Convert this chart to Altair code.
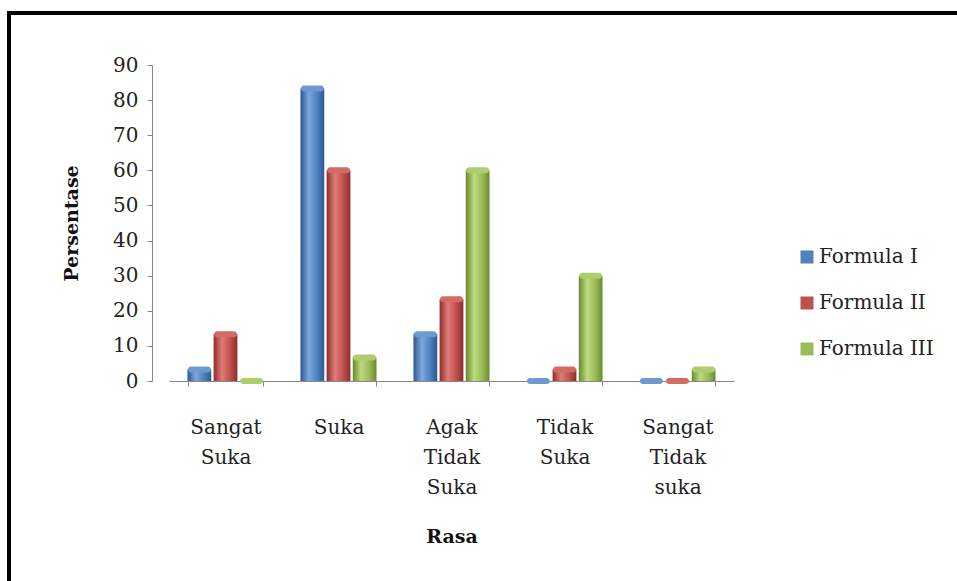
import altair as alt
import pandas as pd

# ---- data ----
categories = ["Sangat Suka", "Suka", "Agak Tidak Suka", "Tidak Suka", "Sangat Tidak suka"]
series = ["Formula I", "Formula II", "Formula III"]
formula_1 = [3.3, 83.3, 13.3, 0, 0]
formula_2 = [13.3, 60.0, 23.3, 3.3, 0]
formula_3 = [0, 6.7, 60.0, 30.0, 3.3]
y_ticks = [0, 10, 20, 30, 40, 50, 60, 70, 80, 90]

base_colors = ["#4F81BD", "#C0504D", "#9BBB59"]
dark_colors = ["#2B5894", "#8E2F2C", "#6A8A30"]
light_colors = ["#7DA7DD", "#E07C78", "#BCDA7E"]
cap_colors = ["#6E9AD2", "#D26A66", "#AECD6E"]

rows = []
for s, vals in zip(series, [formula_1, formula_2, formula_3]):
    for c, v in zip(categories, vals):
        rows.append({"Rasa": c, "Formula": s, "Persentase": v})
df = pd.DataFrame(rows)

FONT = "DejaVu Serif"

x_enc = alt.X(
    "Rasa:N",
    sort=categories,
    scale=alt.Scale(domain=categories, paddingInner=0.33, paddingOuter=0.165),
    axis=alt.Axis(
        title="Rasa",
        labelAngle=0,
        labelExpr="split(datum.label, ' ')",
        labelFont=FONT,
        labelFontSize=20,
        labelLineHeight=30,
        labelColor="#222222",
        labelPadding=31,
        labelBaseline="top",
        tickBand="extent",
        tickOffset=-12,
        tickSize=5,
        tickColor="#888888",
        domainColor="#888888",
        titleFont=FONT,
        titleFontSize=19,
        titleFontWeight="bold",
        titleColor="#111111",
        titlePadding=30,
    ),
)
xoff_enc = alt.XOffset(
    "Formula:N", sort=series, scale=alt.Scale(domain=series, paddingInner=0.1, paddingOuter=0)
)
y_enc = alt.Y(
    "Persentase:Q",
    scale=alt.Scale(domain=[0, 90], nice=False),
    axis=alt.Axis(
        title="Persentase",
        values=y_ticks,
        grid=False,
        offset=17,
        tickSize=5,
        tickColor="#888888",
        domainColor="#888888",
        labelFont=FONT,
        labelFontSize=20,
        labelColor="#222222",
        labelPadding=9,
        titleFont=FONT,
        titleFontSize=19,
        titleFontWeight="bold",
        titleColor="#111111",
        titlePadding=31,
    ),
)

base = alt.Chart(df).encode(x=x_enc, xOffset=xoff_enc, y=y_enc)

legend_bars = base.mark_bar().encode(
    color=alt.Color(
        "Formula:N",
        sort=series,
        scale=alt.Scale(domain=series, range=base_colors),
        legend=alt.Legend(
            title=None,
            orient="none",
            legendX=628,
            legendY=182,
            symbolType="square",
            symbolSize=169,
            symbolStrokeWidth=0,
            labelFont=FONT,
            labelFontSize=20,
            labelColor="#222222",
            labelOffset=2,
            rowPadding=26,
        ),
    )
)

layers = [legend_bars]
for s, d, l, m in zip(series, dark_colors, light_colors, base_colors):
    grad = alt.LinearGradient(
        gradient="linear",
        stops=[
            alt.GradientStop(color=d, offset=0),
            alt.GradientStop(color=l, offset=0.35),
            alt.GradientStop(color=m, offset=0.7),
            alt.GradientStop(color=d, offset=1),
        ],
        x1=0, x2=1, y1=0, y2=0,
    )
    layers.append(
        base.transform_filter(alt.datum.Formula == s).mark_bar(color=grad)
    )
for s, c in zip(series, cap_colors):
    layers.append(
        base.transform_filter(alt.datum.Formula == s).mark_tick(
            color=c, thickness=6, size=23, cornerRadius=3, opacity=1
        )
    )

frame = alt.Chart(pd.DataFrame({"f": [0]})).mark_rect(
    filled=False, stroke="black", strokeWidth=4
).encode(
    x=alt.value(-160), x2=alt.value(1000), y=alt.value(-52), y2=alt.value(700)
)
layers.append(frame)

chart = alt.layer(*layers).properties(
    width=565,
    height=316,
    autosize=alt.AutoSizeParams(type="none"),
    padding={"left": 169, "top": 65, "right": 223, "bottom": 200},
    background="white",
).configure_view(stroke=None)

chart.save("out.html", embed_options={"renderer": "svg", "actions": False})
